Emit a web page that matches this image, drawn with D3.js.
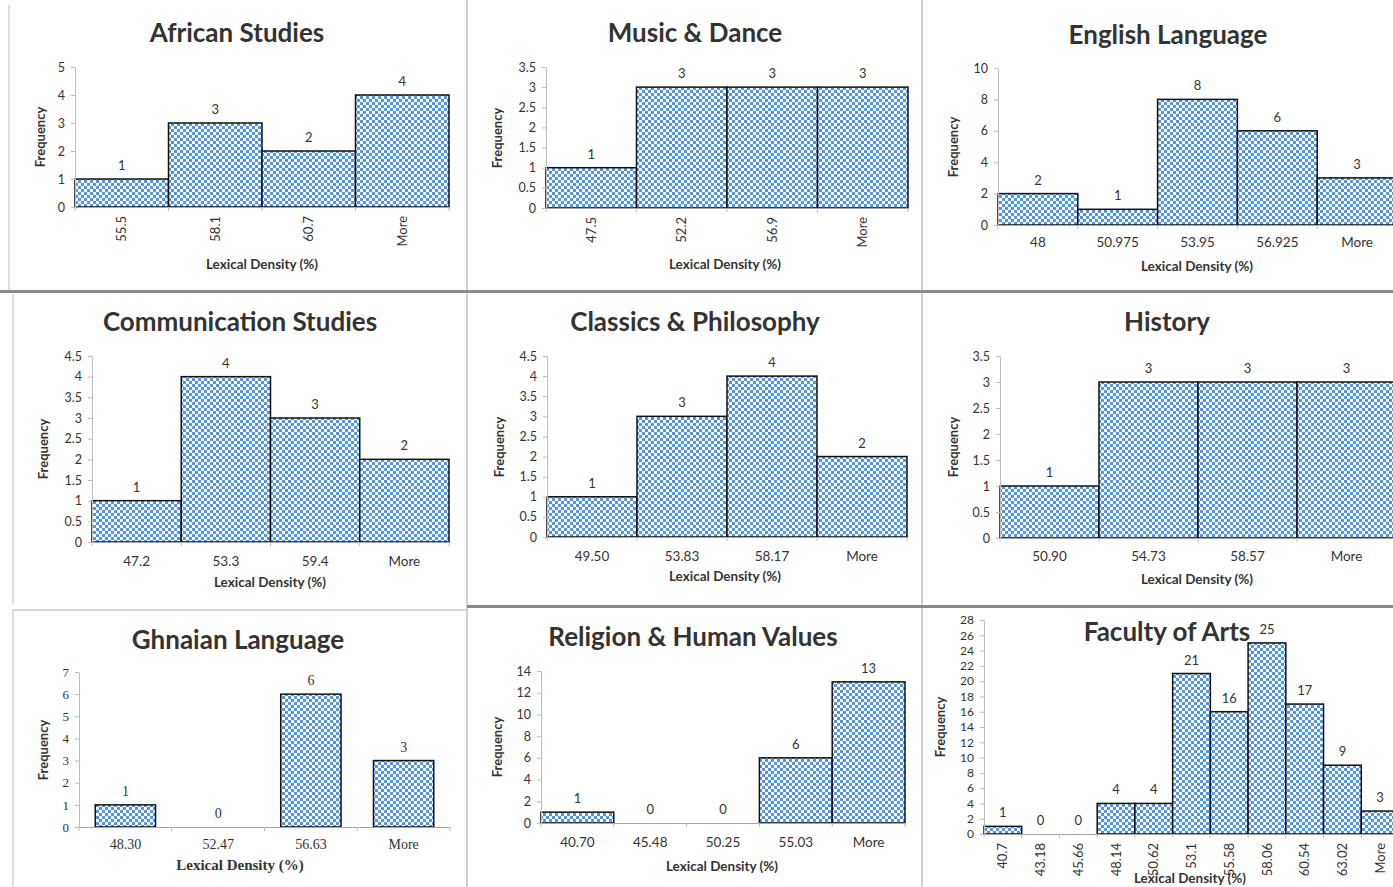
<!DOCTYPE html>
<html>
<head>
<meta charset="utf-8">
<script src="https://cdn.jsdelivr.net/npm/d3@7"></script>
<style>
  body { margin: 0; background: #fff; }
  svg { display: block; }
  text { font-family: Lato, "Liberation Sans", sans-serif; fill: #333; }
</style>
</head>
<body>
<div id="chart"></div>
<script>
"use strict";

// frequency tables, one set per department
var africanBins = ["55.5", "58.1", "60.7", "More"];
var africanFreq = [1, 3, 2, 4];
var africanTicks = [0, 1, 2, 3, 4, 5];

var musicBins = ["47.5", "52.2", "56.9", "More"];
var musicFreq = [1, 3, 3, 3];
var musicTicks = [0, 0.5, 1, 1.5, 2, 2.5, 3, 3.5];

var englishBins = ["48", "50.975", "53.95", "56.925", "More"];
var englishFreq = [2, 1, 8, 6, 3];
var englishTicks = [0, 2, 4, 6, 8, 10];

var commBins = ["47.2", "53.3", "59.4", "More"];
var commFreq = [1, 4, 3, 2];
var commTicks = [0, 0.5, 1, 1.5, 2, 2.5, 3, 3.5, 4, 4.5];

var classicsBins = ["49.50", "53.83", "58.17", "More"];
var classicsFreq = [1, 3, 4, 2];
var classicsTicks = [0, 0.5, 1, 1.5, 2, 2.5, 3, 3.5, 4, 4.5];

var historyBins = ["50.90", "54.73", "58.57", "More"];
var historyFreq = [1, 3, 3, 3];
var historyTicks = [0, 0.5, 1, 1.5, 2, 2.5, 3, 3.5];

var ghanaBins = ["48.30", "52.47", "56.63", "More"];
var ghanaFreq = [1, 0, 6, 3];
var ghanaTicks = [0, 1, 2, 3, 4, 5, 6, 7];

var religionBins = ["40.70", "45.48", "50.25", "55.03", "More"];
var religionFreq = [1, 0, 0, 6, 13];
var religionTicks = [0, 2, 4, 6, 8, 10, 12, 14];

var facultyBins = ["40.7", "43.18", "45.66", "48.14", "50.62", "53.1", "55.58", "58.06", "60.54", "63.02", "More"];
var facultyFreq = [1, 0, 0, 4, 4, 21, 16, 25, 17, 9, 3];
var facultyTicks = [0, 2, 4, 6, 8, 10, 12, 14, 16, 18, 20, 22, 24, 26, 28];

// where each little chart sits on the page
var panels = [
  { title: "African Studies", bins: africanBins, freq: africanFreq, ticks: africanTicks,
    left: 75, right: 449, top: 67, base: 207, titleX: 237, titleY: 42, rotate: true,
    axisX: 262, axisY: 269, freqX: 40, freqY: 137 },
  { title: "Music & Dance", bins: musicBins, freq: musicFreq, ticks: musicTicks,
    left: 546, right: 908, top: 67, base: 208, titleX: 695, titleY: 42, rotate: true,
    axisX: 725, axisY: 269, freqX: 497, freqY: 138 },
  { title: "English Language", bins: englishBins, freq: englishFreq, ticks: englishTicks,
    left: 998, right: 1397, top: 68, base: 225, titleX: 1168, titleY: 44, rotate: false,
    tickY: 247, axisX: 1197, axisY: 271, freqX: 953, freqY: 147 },
  { title: "Communication Studies", bins: commBins, freq: commFreq, ticks: commTicks,
    left: 92, right: 449, top: 356, base: 542, titleX: 240, titleY: 331, rotate: false,
    tickY: 566, axisX: 270, axisY: 587, freqX: 43, freqY: 449 },
  { title: "Classics & Philosophy", bins: classicsBins, freq: classicsFreq, ticks: classicsTicks,
    left: 547, right: 907, top: 356, base: 537, titleX: 695, titleY: 331, rotate: false,
    tickY: 561, axisX: 725, axisY: 581, freqX: 499, freqY: 447 },
  { title: "History", bins: historyBins, freq: historyFreq, ticks: historyTicks,
    left: 1000, right: 1396, top: 356, base: 538, titleX: 1167, titleY: 331, rotate: false,
    tickY: 561, axisX: 1197, axisY: 584, freqX: 953, freqY: 447 },
  { title: "Ghnaian Language", bins: ghanaBins, freq: ghanaFreq, ticks: ghanaTicks,
    left: 79, right: 450, top: 672, base: 827, titleX: 238, titleY: 649, rotate: false,
    tickY: 849, axisX: 240, axisY: 870, freqX: 43, freqY: 750, barFrac: 0.65, serif: true },
  { title: "Religion & Human Values", bins: religionBins, freq: religionFreq, ticks: religionTicks,
    left: 541, right: 905, top: 671, base: 823, titleX: 693, titleY: 646, rotate: false,
    tickY: 847, axisX: 722, axisY: 871, freqX: 497, freqY: 747 },
  { title: "Faculty of Arts", bins: facultyBins, freq: facultyFreq, ticks: facultyTicks,
    left: 984, right: 1399, top: 620, base: 834, titleX: 1167, titleY: 641, rotate: true,
    axisX: 1190, axisY: 883, freqX: 940, freqY: 727 }
];

var W = 1393, H = 887;

var svg = d3.select("#chart").append("svg")
  .attr("width", W)
  .attr("height", H);

// checkerboard fill like the Excel pattern
var pat = svg.append("defs").append("pattern")
  .attr("id", "checker")
  .attr("width", 6).attr("height", 6)
  .attr("patternUnits", "userSpaceOnUse");
pat.append("rect").attr("width", 6).attr("height", 6).attr("fill", "#fff");
pat.append("rect").attr("width", 3).attr("height", 3).attr("fill", "#5596e0");
pat.append("rect").attr("x", 3).attr("y", 3).attr("width", 3).attr("height", 3).attr("fill", "#5596e0");

// panel frames (the pasted screenshots)
var frames = svg.append("g");
frames.append("line").attr("x1", 9).attr("x2", 9).attr("y1", 5).attr("y2", 290)
  .attr("stroke", "#d4d4d4").attr("stroke-width", 1.5);
frames.append("line").attr("x1", 13).attr("x2", 13).attr("y1", 294).attr("y2", 604)
  .attr("stroke", "#d4d4d4").attr("stroke-width", 1.5);
frames.append("line").attr("x1", 13).attr("x2", 13).attr("y1", 610).attr("y2", 887)
  .attr("stroke", "#d4d4d4").attr("stroke-width", 1.5);
frames.append("line").attr("x1", 13).attr("x2", 466).attr("y1", 610).attr("y2", 610)
  .attr("stroke", "#c8c8c8").attr("stroke-width", 1.5);
frames.append("line").attr("x1", 467).attr("x2", 467).attr("y1", 0).attr("y2", H)
  .attr("stroke", "#d0d0d0").attr("stroke-width", 2);
frames.append("line").attr("x1", 922).attr("x2", 922).attr("y1", 0).attr("y2", H)
  .attr("stroke", "#d0d0d0").attr("stroke-width", 2);
frames.append("line").attr("x1", 0).attr("x2", W).attr("y1", 291.5).attr("y2", 291.5)
  .attr("stroke", "#8a8a8a").attr("stroke-width", 3);
frames.append("line").attr("x1", 467).attr("x2", W).attr("y1", 606.5).attr("y2", 606.5)
  .attr("stroke", "#8a8a8a").attr("stroke-width", 3);

panels.forEach(drawPanel);

function drawPanel(p) {
  var g = svg.append("g");
  var serif = p.serif ? "'Liberation Serif', serif" : null;

  var x = d3.scaleBand()
    .domain(p.bins)
    .range([p.left, p.right])
    .padding(0);
  var y = d3.scaleLinear()
    .domain([0, d3.max(p.ticks)])
    .range([p.base, p.top]);

  var frac = p.barFrac || 1;
  var bw = x.bandwidth() * frac;

  // bars
  g.selectAll("rect.bar")
    .data(p.bins.map(function(b, i) { return { bin: b, v: p.freq[i] }; }).filter(function(d) { return d.v > 0; }))
    .join("rect")
      .attr("class", "bar")
      .attr("x", function(d) { return x(d.bin) + (x.bandwidth() - bw) / 2; })
      .attr("y", function(d) { return y(d.v); })
      .attr("width", bw)
      .attr("height", function(d) { return y(0) - y(d.v); })
      .attr("fill", "url(#checker)")
      .attr("stroke", "#111")
      .attr("stroke-width", 1.5);

  // y axis
  var ya = g.append("g")
    .attr("transform", "translate(" + p.left + ",0)")
    .attr("font-size", null)
    .call(d3.axisLeft(y).tickValues(p.ticks).tickSize(4).tickSizeOuter(0).tickPadding(6)
      .tickFormat(function(d) { return String(d); }));
  ya.select(".domain").attr("stroke", "#bdbdbd");
  ya.selectAll(".tick line").attr("stroke", "#bdbdbd");
  ya.selectAll(".tick text")
    .style("font-family", serif)
    .style("font-size", p.serif ? "13px" : (p.ticks.length > 10 ? "12px" : "12.5px"))
    .attr("fill", "#404040");

  // x axis, labels in the middle of each bin
  var xa = g.append("g")
    .attr("transform", "translate(0," + p.base + ")")
    .call(d3.axisBottom(x).tickSize(0).tickSizeOuter(0).tickPadding(8));
  xa.select(".domain").attr("stroke", "#a6a6a6");
  var tl = xa.selectAll(".tick text")
    .style("font-family", serif)
    .attr("fill", "#404040");
  if (p.rotate) {
    tl.attr("transform", "rotate(-90)")
      .attr("text-anchor", "end")
      .attr("x", -9)
      .attr("y", 0)
      .attr("dy", "0.35em")
      .style("font-size", "13px");
  } else {
    tl.attr("y", p.tickY - p.base)
      .attr("dy", null)
      .style("font-size", p.serif ? "14px" : "13.5px");
  }

  // small ticks on the bin edges
  var edges = p.bins.map(function(b) { return x(b); }).concat([p.right]);
  g.selectAll("line.edge")
    .data(edges)
    .join("line")
      .attr("class", "edge")
      .attr("x1", function(d) { return d; })
      .attr("x2", function(d) { return d; })
      .attr("y1", p.base)
      .attr("y2", p.base + 4)
      .attr("stroke", "#bdbdbd");

  // counts above the bars
  g.selectAll("text.val")
    .data(p.bins.map(function(b, i) { return { bin: b, v: p.freq[i] }; }))
    .join("text")
      .attr("class", "val")
      .attr("x", function(d) { return x(d.bin) + x.bandwidth() / 2; })
      .attr("y", function(d) { return y(d.v) - 9; })
      .attr("text-anchor", "middle")
      .style("font-family", serif)
      .style("font-size", p.serif ? "14px" : "13px")
      .attr("fill", "#333")
      .text(function(d) { return d.v; });

  // titles
  g.append("text")
    .attr("x", p.titleX)
    .attr("y", p.titleY)
    .attr("text-anchor", "middle")
    .style("font-size", "26px")
    .style("font-weight", "bold")
    .attr("fill", "#111")
    .text(p.title);

  g.append("text")
    .attr("x", p.axisX)
    .attr("y", p.axisY)
    .attr("text-anchor", "middle")
    .style("font-family", serif)
    .style("font-size", p.serif ? "15px" : "13.5px")
    .style("font-weight", "bold")
    .attr("fill", "#222")
    .text("Lexical Density (%)");

  g.append("text")
    .attr("transform", "translate(" + p.freqX + "," + p.freqY + ") rotate(-90)")
    .attr("text-anchor", "middle")
    .attr("dy", "0.35em")
    .style("font-size", "13px")
    .style("font-weight", "bold")
    .attr("fill", "#222")
    .text("Frequency");
}
</script>
</body>
</html>
